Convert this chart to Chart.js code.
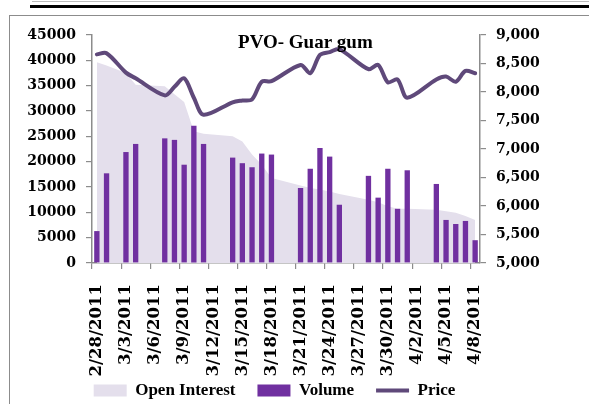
<!DOCTYPE html>
<html>
<head>
<meta charset="utf-8">
<script src="https://cdn.jsdelivr.net/npm/chart.js@4.4.1/dist/chart.umd.min.js"></script>
<style>
  html, body { margin: 0; padding: 0; background: #fff; }
  #wrap { position: relative; width: 589px; height: 404px; overflow: hidden; }
  #thin { position: absolute; left: 32px; top: 1px; width: 557px; height: 1px; background: #bbb; }
  #topline { position: absolute; left: 30px; top: 5px; width: 559px; height: 3px; background: #000; }
  #frame { position: absolute; left: 9px; top: 15px; width: 700px; height: 500px; border: 1.5px solid #8c8c8c; }
  canvas { position: absolute; left: 0; top: 0; }
</style>
</head>
<body>
<div id="wrap">
  <div id="thin"></div>
  <div id="topline"></div>
  <div id="frame"></div>
  <canvas id="chart" width="589" height="404"></canvas>
</div>
<script>
// tous les jours du calendrier (axe de dates)
const days = [
  '2/28/2011', '3/1/2011', '3/2/2011', '3/3/2011', '3/4/2011', '3/5/2011', '3/6/2011',
  '3/7/2011', '3/8/2011', '3/9/2011', '3/10/2011', '3/11/2011', '3/12/2011', '3/13/2011',
  '3/14/2011', '3/15/2011', '3/16/2011', '3/17/2011', '3/18/2011', '3/19/2011', '3/20/2011',
  '3/21/2011', '3/22/2011', '3/23/2011', '3/24/2011', '3/25/2011', '3/26/2011', '3/27/2011',
  '3/28/2011', '3/29/2011', '3/30/2011', '3/31/2011', '4/1/2011', '4/2/2011', '4/3/2011',
  '4/4/2011', '4/5/2011', '4/6/2011', '4/7/2011', '4/8/2011'
];

// jours de cotation
const tradeDays = [
  '2/28/2011', '3/1/2011', '3/3/2011', '3/4/2011',
  '3/7/2011', '3/8/2011', '3/9/2011', '3/10/2011', '3/11/2011',
  '3/14/2011', '3/15/2011', '3/16/2011', '3/17/2011', '3/18/2011',
  '3/21/2011', '3/22/2011', '3/23/2011', '3/24/2011', '3/25/2011',
  '3/28/2011', '3/29/2011', '3/30/2011', '3/31/2011', '4/1/2011',
  '4/4/2011', '4/5/2011', '4/6/2011', '4/7/2011', '4/8/2011'
];

const volume = [
  6300, 17700, 21900, 23500,
  24600, 24300, 19400, 27100, 23500,
  20800, 19700, 18900, 21600, 21400,
  14800, 18600, 22700, 21000, 11500,
  17200, 12900, 18600, 10700, 18300,
  15600, 8500, 7700, 8300, 4500
];

const openInterest = [
  39600, 39000, 37500, 35200,
  34900, 33300, 31800, 26000, 25500,
  25000, 24000, 21400, 19400, 16800,
  15300, 14800, 14500, 14100, 13600,
  12500, 12000, 11200, 10700, 10700,
  10500, 10200, 9900, 9300, 8500
];

const price = [
  8660, 8680, 8340, 8240,
  7940, 8090, 8240, 7900, 7600,
  7820, 7850, 7870, 8180, 8190,
  8475, 8330, 8650, 8700, 8750,
  8400, 8475, 8170, 8220, 7900,
  8220, 8270, 8180, 8370, 8330
];

// place une série sur l'axe des jours (null les jours sans cotation)
function toSlots(values) {
  const out = days.map(() => null);
  tradeDays.forEach((d, i) => { out[days.indexOf(d)] = values[i]; });
  return out;
}

const axisGray = '#8c8c8c';
const tickFont = { family: 'DejaVu Serif', weight: 'bold', size: 14 };

// titre posé dans la zone du graphique
const titlePlugin = {
  id: 'inTitle',
  afterDatasetsDraw(chart) {
    const { ctx, chartArea } = chart;
    ctx.save();
    ctx.font = 'bold 19px "Liberation Serif"';
    ctx.fillStyle = '#000';
    ctx.textAlign = 'center';
    ctx.textBaseline = 'alphabetic';
    ctx.fillText('PVO- Guar gum', chartArea.left + chartArea.width * 0.55, chartArea.top + 13);
    ctx.restore();
  }
};

new Chart(document.getElementById('chart'), {
  type: 'bar',
  data: {
    labels: days,
    datasets: [
      {
        type: 'line',
        label: 'Open Interest',
        data: toSlots(openInterest),
        yAxisID: 'y',
        fill: 'origin',
        backgroundColor: '#E4DFEC',
        borderColor: 'rgba(0,0,0,0)',
        borderWidth: 0,
        pointRadius: 0,
        tension: 0,
        spanGaps: true,
        pointStyle: 'rect',
        order: 3
      },
      {
        type: 'bar',
        label: 'Volume',
        data: toSlots(volume),
        yAxisID: 'y',
        backgroundColor: '#7030A0',
        barPercentage: 0.55,
        categoryPercentage: 1,
        pointStyle: 'rect',
        order: 2
      },
      {
        type: 'line',
        label: 'Price',
        data: toSlots(price),
        yAxisID: 'y1',
        borderColor: '#5F497A',
        backgroundColor: '#5F497A',
        borderWidth: 4,
        borderCapStyle: 'round',
        pointRadius: 0,
        tension: 0.3,
        spanGaps: true,
        fill: false,
        pointStyle: 'line',
        order: 1
      }
    ]
  },
  options: {
    responsive: false,
    animation: false,
    layout: { padding: { top: 35, right: 40, left: 0, bottom: -5 } },
    plugins: {
      tooltip: { enabled: false },
      legend: {
        position: 'bottom',
        labels: {
          usePointStyle: true,
          pointStyleWidth: 33,
          boxHeight: 12,
          padding: 22,
          color: '#000',
          font: { family: 'Liberation Serif', weight: 'bold', size: 17 },
          sort: (a, b) => a.datasetIndex - b.datasetIndex
        }
      }
    },
    scales: {
      x: {
        offset: true,
        grid: {
          display: true,
          offset: true,
          drawOnChartArea: false,
          tickLength: 6,
          lineWidth: 1.2,
          color: c => (c.index % 3 === 0 ? axisGray : 'rgba(0,0,0,0)')
        },
        border: { display: true, color: axisGray, width: 1.5 },
        ticks: {
          autoSkip: false,
          minRotation: 90,
          maxRotation: 90,
          padding: 15,
          color: '#000',
          font: { family: 'DejaVu Serif', weight: 'bold', size: 16.5 },
          callback: (v, i) => (i % 3 === 0 ? days[i] : '')
        },
        afterFit: s => {
          s.height = 97;
          // les étiquettes débordent sur la légende : pas de découpe
          s._computeLabelArea = () => undefined;
        }
      },
      y: {
        position: 'left',
        min: 0,
        max: 45000,
        grid: { drawOnChartArea: false, tickLength: 6, color: axisGray, lineWidth: 1.2 },
        border: { display: true, color: axisGray, width: 1.5 },
        ticks: { stepSize: 5000, padding: 10, color: '#000', font: tickFont, callback: v => String(v) },
        afterFit: s => { s.width = 92; }
      },
      y1: {
        position: 'right',
        min: 5000,
        max: 9000,
        grid: { drawOnChartArea: false, tickLength: 6, color: axisGray, lineWidth: 1.2 },
        border: { display: true, color: axisGray, width: 1.5 },
        ticks: { stepSize: 500, padding: 10, color: '#000', font: tickFont, callback: v => v.toLocaleString('en-US') },
        afterFit: s => { s.width = 69; }
      }
    }
  },
  plugins: [titlePlugin]
});
</script>
</body>
</html>
